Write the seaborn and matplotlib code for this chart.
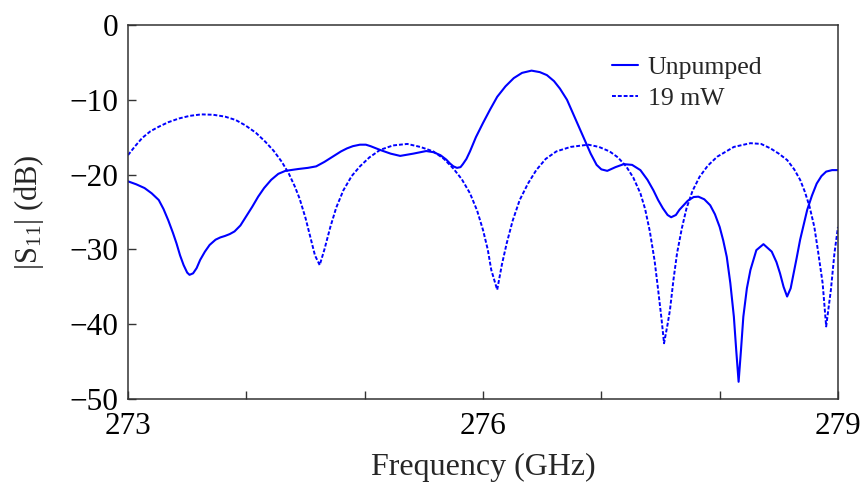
import numpy as np
import pandas as pd
import matplotlib
matplotlib.use("Agg")
import matplotlib.pyplot as plt
import seaborn as sns

# ---- data ----
unpumped_f = [273.00, 273.07, 273.14, 273.20, 273.26, 273.30, 273.34, 273.38, 273.41, 273.44,
              273.47, 273.50, 273.52, 273.55, 273.58, 273.61, 273.65, 273.69, 273.74, 273.78,
              273.82, 273.86, 273.90, 273.95, 273.99, 274.05, 274.10, 274.15, 274.21, 274.27,
              274.33, 274.44, 274.52, 274.59, 274.66, 274.73, 274.80, 274.85, 274.90, 274.96,
              275.01, 275.05, 275.13, 275.22, 275.30, 275.41, 275.52, 275.58, 275.64, 275.69,
              275.72, 275.75, 275.78, 275.81, 275.83, 275.86, 275.89, 275.94, 276.00, 276.06,
              276.12, 276.19, 276.26, 276.33, 276.41, 276.48, 276.54, 276.60, 276.65, 276.71,
              276.76, 276.81, 276.86, 276.91, 276.96, 277.00, 277.05, 277.12, 277.19, 277.26,
              277.33, 277.39, 277.44, 277.48, 277.52, 277.56, 277.59, 277.63, 277.66, 277.73,
              277.78, 277.82, 277.87, 277.92, 277.96, 278.00, 278.03, 278.06, 278.09, 278.12,
              278.14, 278.16, 278.18, 278.20, 278.23, 278.26, 278.31, 278.37, 278.44, 278.48,
              278.51, 278.54, 278.57, 278.60, 278.62, 278.65, 278.68, 278.74, 278.78, 278.82,
              278.86, 278.90, 278.95, 279.00]
unpumped_db = [-20.9, -21.3, -21.8, -22.5, -23.4, -24.6, -26.1, -27.8, -29.2, -30.8,
               -32.1, -33.1, -33.4, -33.2, -32.5, -31.4, -30.3, -29.4, -28.7, -28.4,
               -28.2, -27.95, -27.6, -26.8, -25.8, -24.3, -22.95, -21.8, -20.7, -19.9,
               -19.5, -19.25, -19.1, -18.9, -18.3, -17.6, -16.9, -16.5, -16.2, -16.0,
               -16.0, -16.2, -16.7, -17.2, -17.5, -17.2, -16.85, -17.0, -17.4, -18.0,
               -18.5, -18.9, -19.1, -19.0, -18.6, -17.9, -16.9, -15.0, -13.1, -11.3,
               -9.6, -8.2, -7.1, -6.4, -6.1, -6.3, -6.7, -7.5, -8.5, -10.0,
               -11.8, -13.6, -15.4, -17.2, -18.7, -19.3, -19.5, -19.0, -18.6, -18.7,
               -19.4, -20.7, -22.1, -23.4, -24.5, -25.4, -25.7, -25.4, -24.7, -23.5,
               -23.0, -22.95, -23.3, -24.1, -25.3, -27.0, -28.8, -31.0, -34.5, -39.0,
               -43.5, -47.7, -43.5, -39.0, -35.2, -32.75, -30.1, -29.3, -30.3, -31.7,
               -33.2, -35.0, -36.3, -35.2, -33.6, -31.2, -28.7, -24.7, -22.8, -21.2,
               -20.2, -19.6, -19.4, -19.4]

pumped_f = [273.00, 273.06, 273.12, 273.19, 273.26, 273.34, 273.43, 273.52, 273.62, 273.72,
            273.82, 273.91, 273.99, 274.08, 274.16, 274.23, 274.30, 274.36, 274.41, 274.45,
            274.50, 274.54, 274.58, 274.62, 274.66, 274.71, 274.76, 274.82, 274.89, 274.96,
            275.04, 275.13, 275.24, 275.36, 275.47, 275.58, 275.67, 275.75, 275.82, 275.89,
            275.95, 276.00, 276.04, 276.07, 276.12, 276.16, 276.20, 276.25, 276.31, 276.38,
            276.45, 276.53, 276.62, 276.74, 276.89, 276.98, 277.07, 277.14, 277.21, 277.27,
            277.33, 277.37, 277.41, 277.45, 277.48, 277.51, 277.53, 277.56, 277.58, 277.61,
            277.64, 277.68, 277.72, 277.77, 277.83, 277.90, 277.98, 278.12, 278.26, 278.35,
            278.43, 278.50, 278.57, 278.63, 278.68, 278.72, 278.76, 278.80, 278.83, 278.87,
            278.90, 278.94, 278.97, 279.00]
pumped_db = [-17.4, -16.2, -15.1, -14.2, -13.6, -13.0, -12.5, -12.15, -11.95, -12.0,
             -12.25, -12.7, -13.4, -14.4, -15.6, -16.8, -18.3, -19.9, -21.6, -23.2,
             -25.8, -28.3, -30.8, -32.1, -30.0, -27.0, -24.4, -22.1, -20.2, -18.9,
             -17.7, -16.7, -16.1, -15.9, -16.3, -16.9, -17.9, -19.2, -20.6, -22.5,
             -24.8, -27.4, -30.0, -32.75, -35.4, -32.0, -29.2, -26.2, -23.4, -21.2,
             -19.4, -17.9, -16.9, -16.3, -16.0, -16.3, -16.9, -17.7, -18.9, -20.4,
             -22.5, -24.6, -27.6, -31.5, -35.4, -39.5, -42.55, -40.0, -38.1, -34.0,
             -30.5, -27.2, -24.5, -22.2, -20.3, -18.8, -17.6, -16.3, -15.8, -15.9,
             -16.5, -17.2, -18.05, -19.3, -20.7, -22.3, -24.3, -27.0, -30.1, -34.5,
             -40.3, -35.4, -30.5, -27.0]

series_labels = ["Unpumped", "19 mW"]
x_ticks = [273, 274, 275, 276, 277, 278, 279]
x_tick_labels = ["273", "", "", "276", "", "", "279"]
y_ticks = [0, -10, -20, -30, -40, -50]
y_tick_labels = ["0", "\u221210", "\u221220", "\u221230", "\u221240", "\u221250"]

df_u = pd.DataFrame({"f": unpumped_f, "s": unpumped_db})
df_p = pd.DataFrame({"f": pumped_f, "s": pumped_db})

# ---- style ----
sns.set_style("ticks")
plt.rcParams["font.family"] = ["Liberation Serif", "DejaVu Serif"]
plt.rcParams["mathtext.fontset"] = "custom"
plt.rcParams["mathtext.rm"] = "Liberation Serif"
plt.rcParams["mathtext.it"] = "Liberation Serif:italic"

fig = plt.figure(figsize=(8.62, 4.83), dpi=100)
ax = fig.add_axes([128 / 862, 1 - 399 / 483, 710 / 862, 374 / 483])

sns.lineplot(data=df_u, x="f", y="s", ax=ax, color="#0000ff", lw=1.5,
             label=series_labels[0], estimator=None)
sns.lineplot(data=df_p, x="f", y="s", ax=ax, color="#0000ff", lw=1.4,
             linestyle=(0, (2.0, 1.0)), label=series_labels[1], estimator=None)

ax.set_xlim(273, 279)
ax.set_ylim(-50, 0)
ax.set_xticks(x_ticks)
ax.set_xticklabels(x_tick_labels)
ax.set_yticks(y_ticks)
ax.set_yticklabels(y_tick_labels)
ax.tick_params(direction="in", length=6, width=1.0, labelsize=22.5, colors="#333333",
               labelcolor="black", top=False, right=False)
ax.tick_params(axis="x", pad=9)
ax.tick_params(axis="y", pad=7)

for sp in ax.spines.values():
    sp.set_visible(True)
    sp.set_linewidth(1.1)
    sp.set_color("#333333")

ax.set_xlabel("Frequency (GHz)", fontsize=23, labelpad=9)
ax.set_ylabel(r"$|\mathrm{S}_{11}|$ (dB)", fontsize=22, labelpad=17)

leg = ax.legend(loc="upper left", bbox_to_anchor=(0.667, 0.945), frameon=False,
                fontsize=18.5, handlelength=1.0, handletextpad=0.4, labelspacing=0.3,
                borderaxespad=0.0)

fig.savefig("out.png", dpi=100)
